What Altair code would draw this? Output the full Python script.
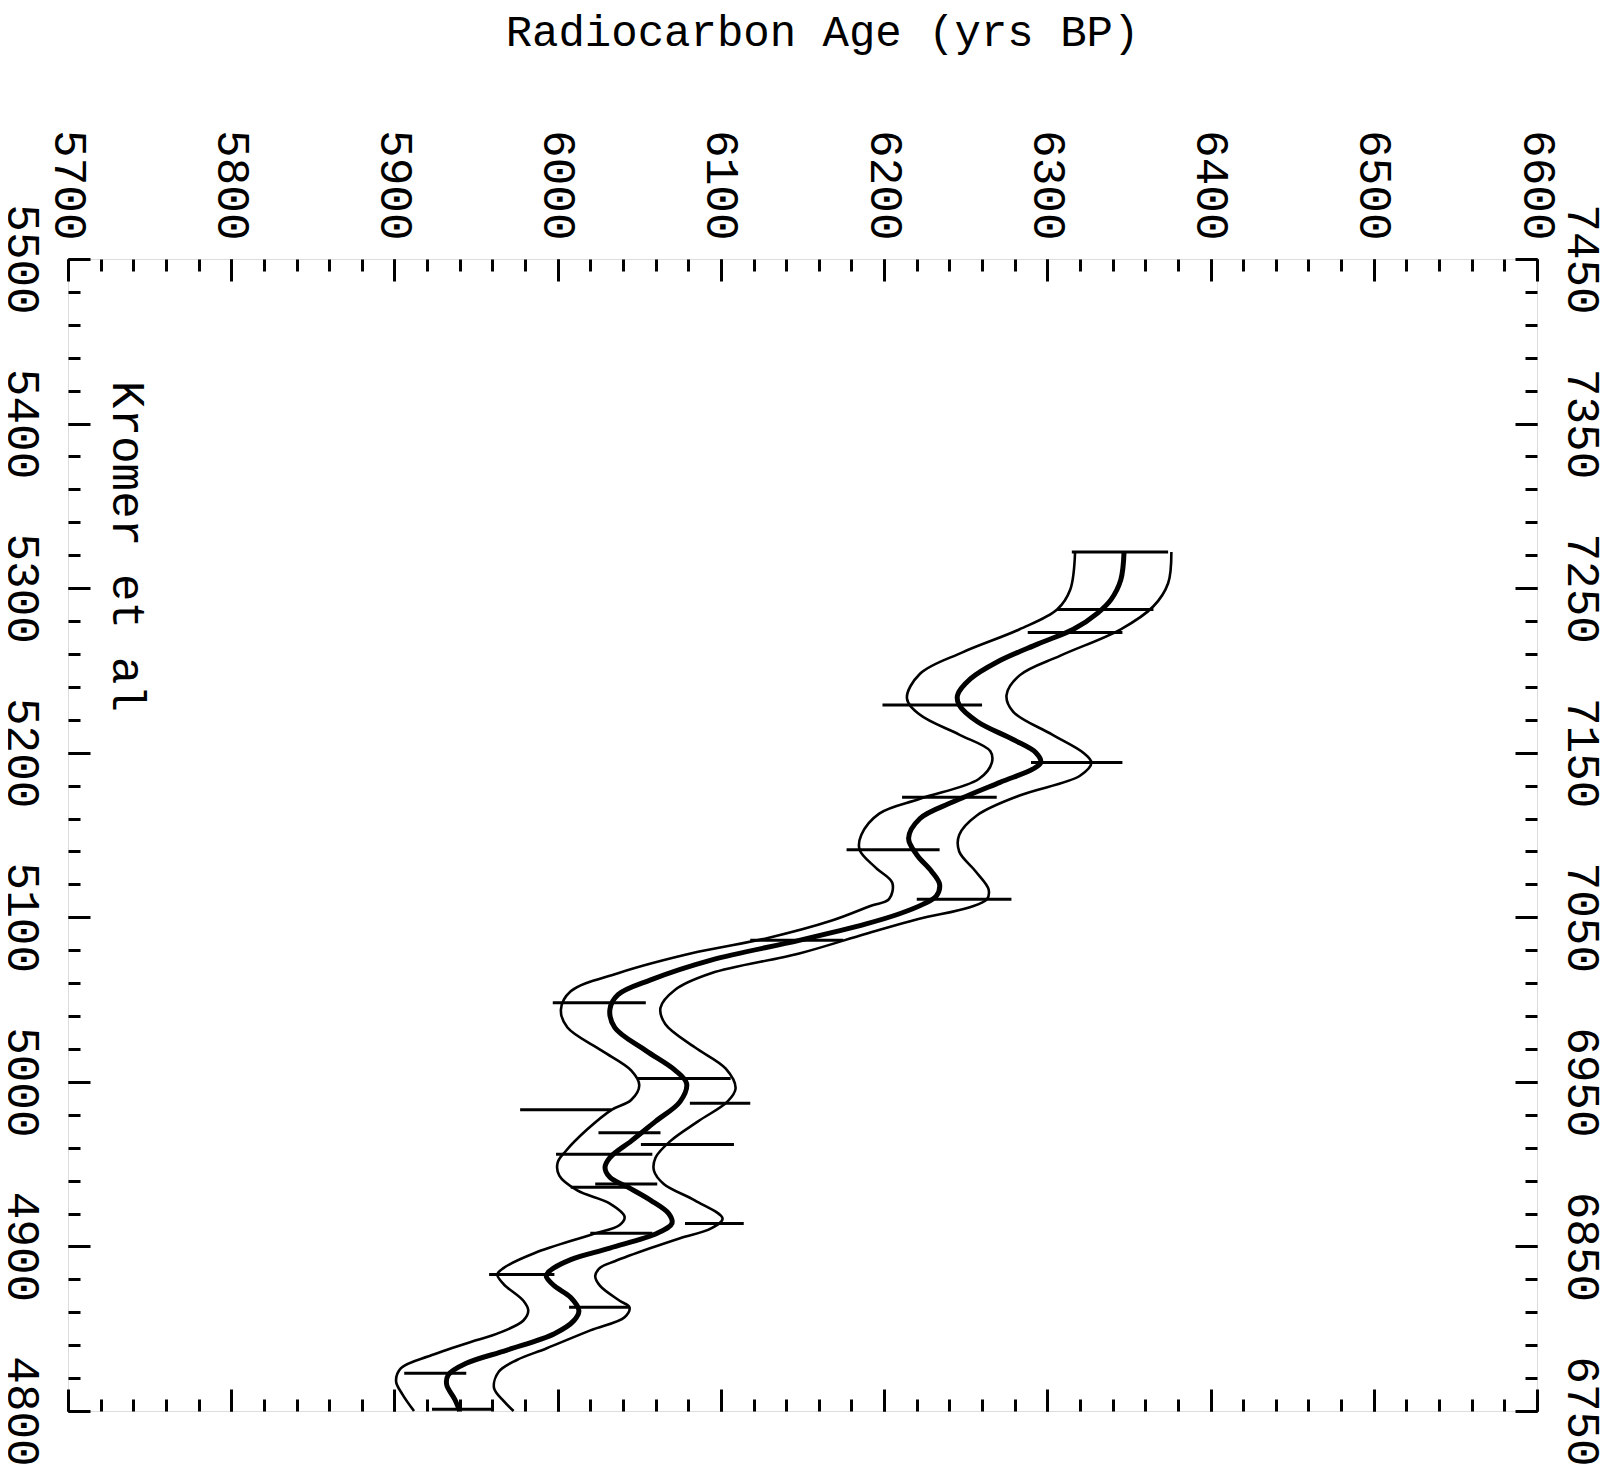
import altair as alt
import pandas as pd

FONT = "Liberation Mono"

# Calibration curve, centre line: calendar age (BC) and radiocarbon age (yrs BP)
cal_mid = [5322, 5305, 5293, 5285, 5275, 5266, 5255, 5245, 5235, 5229, 5219, 5208, 5200, 5194,
           5190, 5182, 5170, 5160, 5148, 5138, 5128, 5120, 5113, 5108, 5102, 5096, 5086, 5074,
           5062, 5053, 5044, 5033, 5019, 5007, 4999, 4988, 4976, 4964, 4954, 4948, 4942, 4936,
           4928, 4920, 4914, 4908, 4899, 4892, 4885, 4882, 4876, 4869, 4861, 4855, 4847, 4837,
           4829, 4822, 4816, 4807, 4800]
rc_mid = [6347, 6345, 6339, 6331, 6316, 6294, 6269, 6253, 6245, 6246, 6257, 6279, 6293, 6296,
          6291, 6271, 6242, 6222, 6215, 6220, 6229, 6234, 6232, 6224, 6209, 6189, 6148, 6094,
          6057, 6037, 6032, 6035, 6054, 6072, 6079, 6075, 6060, 6045, 6032, 6029, 6032, 6043,
          6057, 6068, 6070, 6061, 6032, 6008, 5995, 5993, 5998, 6008, 6013, 6010, 5998, 5969,
          5944, 5933, 5932, 5937, 5940]

# Lower (younger) envelope
cal_lo = [5322, 5299, 5287, 5275, 5261, 5248, 5233, 5223, 5211, 5201, 5194, 5184, 5172, 5163,
          5150, 5141, 5130, 5121, 5111, 5107, 5098, 5087, 5079, 5066, 5055, 5044, 5033, 5019,
          5007, 4998, 4989, 4983, 4971, 4958, 4951, 4943, 4934, 4926, 4918, 4913, 4907, 4896,
          4887, 4883, 4877, 4867, 4861, 4855, 4847, 4843, 4834, 4826, 4818, 4810, 4800]
rc_lo = [6317, 6314, 6306, 6283, 6248, 6222, 6214, 6222, 6246, 6265, 6266, 6258, 6222, 6197,
         6186, 6185, 6195, 6205, 6203, 6192, 6168, 6127, 6086, 6037, 6008, 6002, 6006, 6027,
         6045, 6050, 6045, 6033, 6018, 6005, 6000, 6001, 6012, 6032, 6041, 6038, 6020, 5986,
         5967, 5963, 5967, 5979, 5982, 5979, 5963, 5950, 5923, 5904, 5901, 5905, 5912]

# Upper (older) envelope
cal_hi = [5322, 5303, 5289, 5275, 5259, 5247, 5235, 5225, 5211, 5200, 5194, 5186, 5174, 5162,
          5150, 5140, 5128, 5117, 5111, 5106, 5099, 5090, 5078, 5066, 5056, 5045, 5035, 5021,
          5008, 4996, 4988, 4976, 4964, 4954, 4946, 4938, 4928, 4917, 4911, 4905, 4899, 4891,
          4887, 4882, 4876, 4867, 4863, 4857, 4849, 4838, 4831, 4824, 4814, 4806, 4800]
rc_hi = [6376, 6374, 6365, 6345, 6308, 6283, 6275, 6279, 6303, 6322, 6327, 6320, 6283, 6257,
         6246, 6246, 6256, 6264, 6263, 6252, 6221, 6189, 6148, 6094, 6072, 6063, 6066, 6084,
         6103, 6109, 6104, 6086, 6069, 6060, 6059, 6065, 6084, 6101, 6094, 6075, 6057, 6035,
         6026, 6023, 6026, 6038, 6044, 6041, 6020, 5993, 5975, 5964, 5961, 5967, 5973]

# Dated samples: calendar age and radiocarbon +/- 1 sigma range
bar_cal = [5322, 5287, 5273, 5229, 5194, 5173, 5141, 5111, 5086, 5048, 5002, 4987, 4983, 4969,
           4962, 4956, 4938, 4936, 4914, 4908, 4883, 4863, 4823, 4801]
bar_lo = [6315, 6306, 6288, 6199, 6290, 6211, 6177, 6220, 6118, 5997, 6049, 6081, 5977, 6025,
          6051, 5999, 6023, 6008, 6078, 6020, 5958, 6007, 5906, 5923]
bar_hi = [6374, 6365, 6346, 6260, 6346, 6269, 6234, 6278, 6175, 6054, 6106, 6118, 6033, 6063,
          6108, 6058, 6061, 6045, 6114, 6058, 5998, 6044, 5944, 5961]

# Axis tick values
rc_major = list(range(5700, 6601, 100))
rc_minor = list(range(5700, 6601, 20))
cal_major = list(range(4800, 5501, 100))
cal_minor = list(range(4800, 5501, 20))

note_text = ["Kromer et al"]
note_rc = [5736]
note_cal = [5426]

env = pd.DataFrame({
    "cal": cal_lo + cal_hi,
    "rc": rc_lo + rc_hi,
    "series": ["lo"] * len(cal_lo) + ["hi"] * len(cal_hi),
    "idx": list(range(len(cal_lo))) + list(range(len(cal_hi))),
})
mid = pd.DataFrame({"cal": cal_mid, "rc": rc_mid, "idx": list(range(len(cal_mid)))})
bars = pd.DataFrame({"cal": bar_cal, "lo": bar_lo, "hi": bar_hi})
note = pd.DataFrame({"cal": note_cal, "rc": note_rc, "label": note_text})

XS = alt.Scale(domain=[5700, 6600], nice=False, zero=False)
YS = alt.Scale(domain=[4800, 5500], nice=False, zero=False)

LABEL = dict(labelFont=FONT, labelFontSize=46, labelColor="black", labelAngle=90,
             labelFlush=False, labelOverlap=False, labelBound=False, format="d")


def axis(orient, values, size, **label_kw):
    kw = dict(orient=orient, values=values, tickSize=size, offset=-size,
              domain=False, grid=False, ticks=True, tickColor="black",
              tickWidth=3, title="", labels=bool(label_kw))
    if label_kw:
        kw.update(LABEL)
        kw.update(label_kw)
    return alt.Axis(**kw)


top_major = axis("top", rc_major, 22, labelAlign="right", labelBaseline="middle", labelPadding=19)
top_minor = axis("top", rc_minor, 12)
bot_major = axis("bottom", rc_major, 22)
bot_minor = axis("bottom", rc_minor, 12)
left_major = axis("left", cal_major, 22, labelAlign="center", labelBaseline="top", labelPadding=25)
left_minor = axis("left", cal_minor, 12)
right_major = axis("right", cal_major, 22, labelAlign="center", labelBaseline="alphabetic",
                   labelPadding=30, labelExpr="datum.value + 1950")
right_minor = axis("right", cal_minor, 12)

env_layer = alt.Chart(env).mark_line(color="black", strokeWidth=2.6, interpolate="catmull-rom").encode(
    x=alt.X("rc:Q", scale=XS, axis=top_major),
    y=alt.Y("cal:Q", scale=YS, axis=left_major),
    detail="series:N",
    order="idx:Q",
)

mid_layer = alt.Chart(mid).mark_line(color="black", strokeWidth=5, interpolate="catmull-rom").encode(
    x=alt.X("rc:Q", scale=XS, axis=top_minor),
    y=alt.Y("cal:Q", scale=YS, axis=left_minor),
    order="idx:Q",
)

bar_layer = alt.Chart(bars).mark_rule(color="black", strokeWidth=3).encode(
    x=alt.X("lo:Q", scale=XS, axis=bot_major),
    x2="hi:Q",
    y=alt.Y("cal:Q", scale=YS, axis=right_major),
)

note_layer = alt.Chart(note).mark_text(angle=90, align="left", baseline="middle", font=FONT,
                                       fontSize=46, color="black").encode(
    x=alt.X("rc:Q", scale=XS, axis=bot_minor),
    y=alt.Y("cal:Q", scale=YS, axis=right_minor),
    text="label:N",
)

chart = alt.layer(env_layer, mid_layer, bar_layer, note_layer).resolve_axis(
    x="independent", y="independent"
).properties(
    width=1469,
    height=1152,
    padding={"left": 60, "top": 251, "right": 73, "bottom": 57},
    autosize=alt.AutoSizeParams(type="none"),
    title=alt.TitleParams(text="Radiocarbon Age (yrs BP)", font=FONT, fontSize=44,
                          fontWeight="normal", color="black", anchor="middle", frame="group",
                          offset=40, baseline="alphabetic", dx=20),
).configure_view(stroke="black", strokeWidth=4).configure(background="white")

chart.save("out.html", embed_options={"renderer": "svg", "actions": False})
